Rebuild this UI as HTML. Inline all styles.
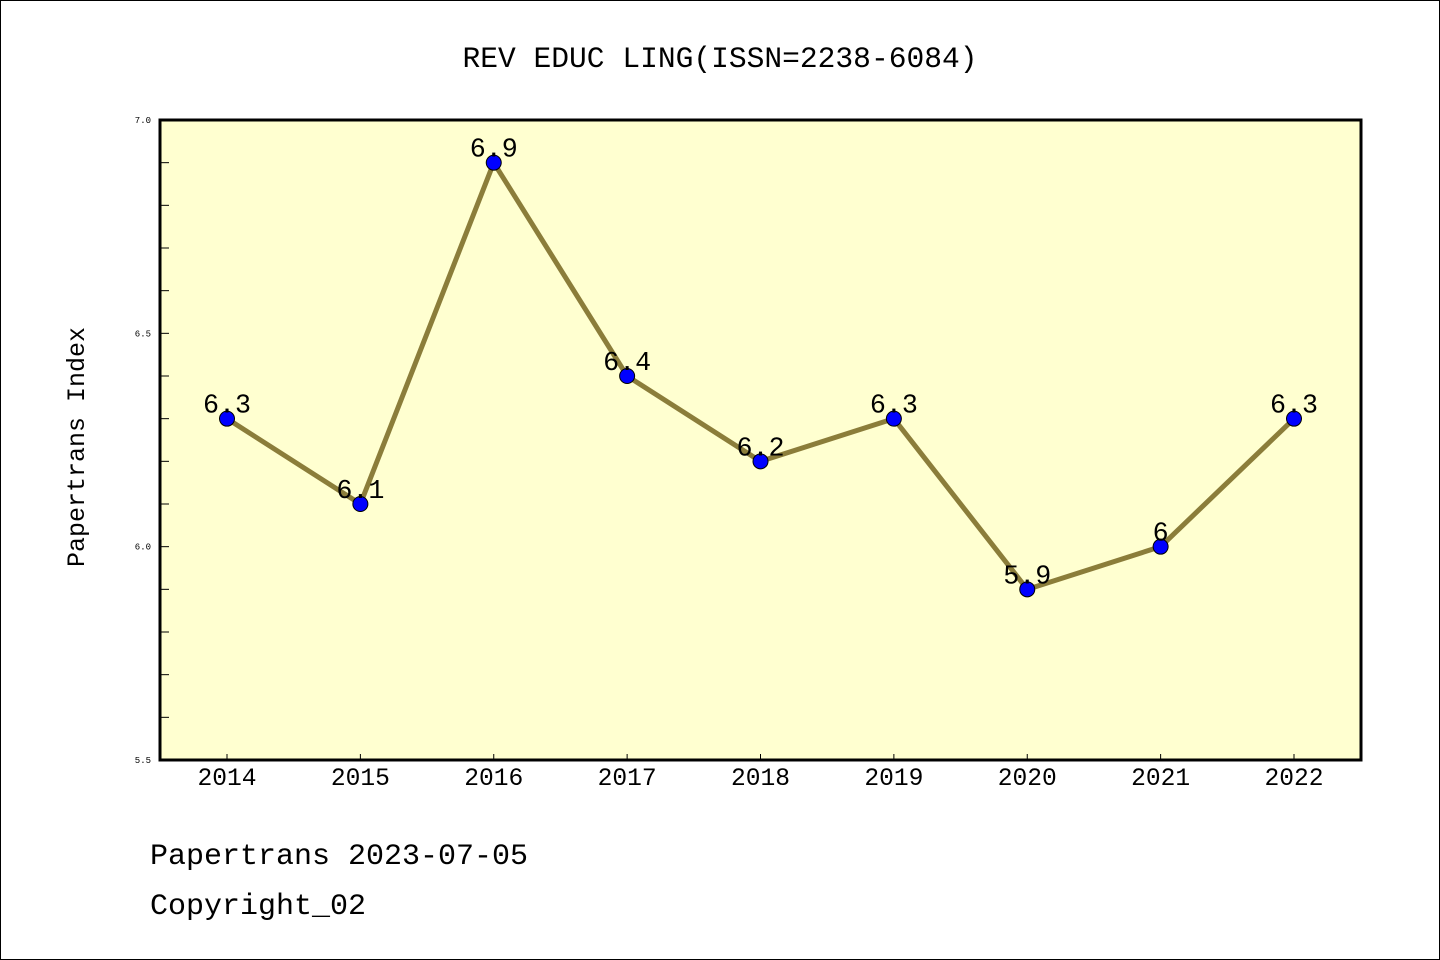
<!DOCTYPE html>
<html><head><meta charset="utf-8"><style>
body{margin:0;background:#fff;}
svg{display:block;font-family:"Liberation Mono",monospace;}
</style></head><body>
<svg id="chart" width="1440" height="960">
<rect x="0.5" y="0.5" width="1439" height="959" fill="#fff" stroke="#000"/>
<text x="720" y="67" font-size="29.6" text-anchor="middle">REV EDUC LING(ISSN=2238-6084)</text>
<rect x="160" y="120" width="1201" height="640" fill="#ffffd0"/>
<g id="axes"></g>
<g id="series"></g>
<rect x="160" y="120" width="1201" height="640" fill="none" stroke="#000" stroke-width="3"/>
<text transform="translate(84,447) rotate(-90)" font-size="25" text-anchor="middle">Papertrans Index</text>
<text x="150" y="864" font-size="30">Papertrans 2023-07-05</text>
<text x="150" y="914" font-size="30">Copyright_02</text>
</svg>
<script>
const years=["2014","2015","2016","2017","2018","2019","2020","2021","2022"];
const values=[6.3,6.1,6.9,6.4,6.2,6.3,5.9,6.0,6.3];
const valueLabels=["6.3","6.1","6.9","6.4","6.2","6.3","5.9","6","6.3"];
const yTickLabels=["5.5","6.0","6.5","7.0"];
const yMin=5.5,yMax=7.0;
const NS="http://www.w3.org/2000/svg";
const px0=227,px1=1294,py0=760,py1=120;
function xs(i){return px0+(px1-px0)*i/(years.length-1);}
function ys(v){return py0-(v-yMin)/(yMax-yMin)*(py0-py1);}
function mk(tag,attrs,parent){const e=document.createElementNS(NS,tag);for(const k in attrs)e.setAttribute(k,attrs[k]);parent.appendChild(e);return e;}
const axes=document.getElementById('axes'),ser=document.getElementById('series');
for(let k=0;k<=15;k++){const v=yMin+k*0.1;const y=ys(v);
 const t=mk('line',{x1:160,x2:169,y1:y,y2:y,stroke:'#000','stroke-width':1},axes);
 
 }
yTickLabels.forEach(s=>{const t=mk('text',{x:151,y:ys(parseFloat(s))+3,'font-size':9,'text-anchor':'end'},axes);t.textContent=s;
 
 });
years.forEach((yr,i)=>{const x=xs(i);
 const t=mk('line',{x1:x,x2:x,y1:760,y2:754,stroke:'#000','stroke-width':1},axes);
 
 
 const l=mk('text',{x:x,y:785,'font-size':24.6,'text-anchor':'middle'},axes);l.textContent=yr;
 
 });
const pts=values.map((v,i)=>xs(i)+','+ys(v)).join(' ');
const pl=mk('polyline',{points:pts,fill:'none',stroke:'#8b7d3a','stroke-width':5,'stroke-linejoin':'round'},ser);


values.forEach((v,i)=>{const c=mk('circle',{cx:xs(i),cy:ys(v),r:7.5,fill:'#0000ff',stroke:'#000','stroke-width':1},ser);
 
 
 const t=mk('text',{x:xs(i),y:ys(v)-6,'font-size':26.7,'text-anchor':'middle'},ser);t.textContent=valueLabels[i];
 
 });
</script>
</body></html>
